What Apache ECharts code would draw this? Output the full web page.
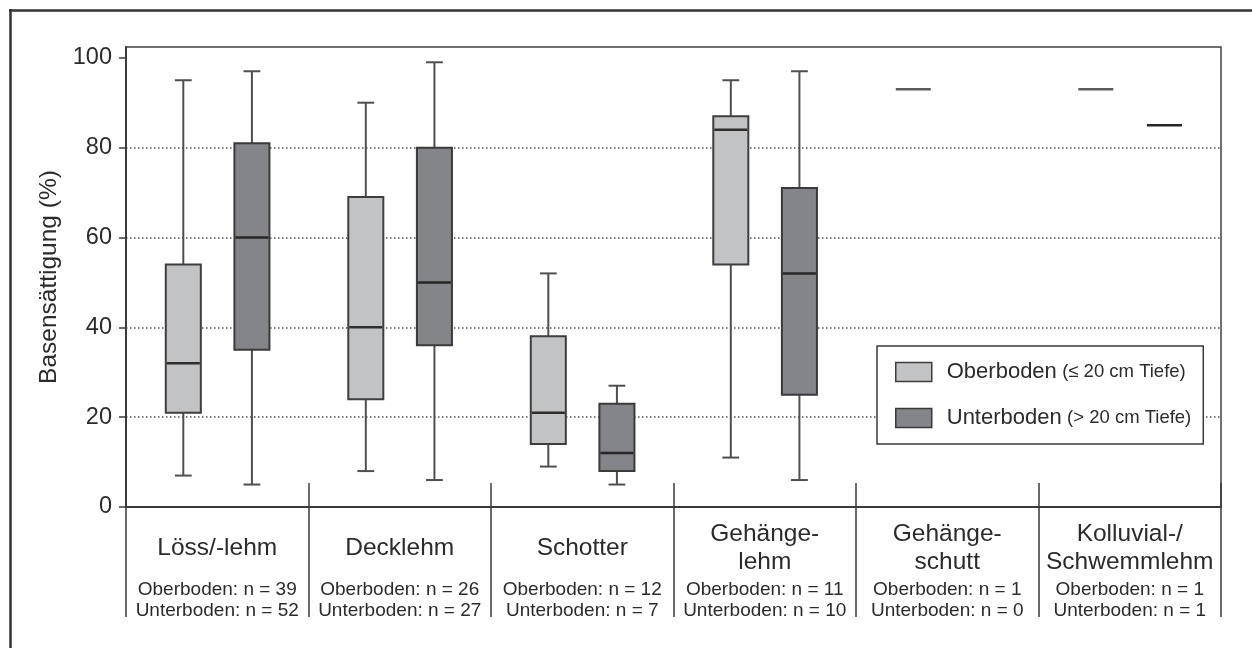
<!DOCTYPE html>
<html>
<head>
<meta charset="utf-8">
<script src="https://cdn.jsdelivr.net/npm/echarts@6/dist/echarts.min.js"></script>
<style>
  html, body { margin: 0; padding: 0; background: #fff; }
  #chart { width: 1252px; height: 648px; }
</style>
</head>
<body>
<div id="chart"></div>
<script>
// Substrate classes (two-line names split with "\n")
const categories = ['Löss/-lehm', 'Decklehm', 'Schotter', 'Gehänge-\nlehm', 'Gehänge-\nschutt', 'Kolluvial-/\nSchwemmlehm'];
// Sample counts per class
const nOberboden = [39, 26, 12, 11, 1, 1];
const nUnterboden = [52, 27, 7, 10, 0, 1];
// Base saturation (%) per class: [min, Q1, median, Q3, max]; null = no samples
const oberboden = [
  [7, 21, 32, 54, 95],
  [8, 24, 40, 69, 90],
  [9, 14, 21, 38, 52],
  [11, 54, 84, 87, 95],
  [93, 93, 93, 93, 93],
  [93, 93, 93, 93, 93]
];
const unterboden = [
  [5, 35, 60, 81, 97],
  [6, 36, 50, 80, 99],
  [5, 8, 12, 23, 27],
  [6, 25, 52, 71, 97],
  null,
  [85, 85, 85, 85, 85]
];
const yTicks = [0, 20, 40, 60, 80, 100];
const seriesNames = ['Oberboden', 'Unterboden'];
const depthNotes = ['(≤ 20 cm Tiefe)', '(> 20 cm Tiefe)'];
const yTitle = 'Basensättigung (%)';

const FONT = "'Liberation Sans', Arial, Helvetica, sans-serif";
const INK = '#2b2b2b';

const styles = [
  { fill: '#c2c3c5', border: '#3e3e3e', whisker: '#4f4f4f', median: '#2e2e2e', single: '#5c5c5c', offset: -0.186 },
  { fill: '#848589', border: '#3a3a3a', whisker: '#4f4f4f', median: '#262626', single: '#262626', offset: 0.19 }
];

function toRows(list) {
  const rows = [];
  list.forEach((v, i) => { if (v) rows.push([i].concat(v)); });
  return rows;
}

function makeRenderer(st) {
  return function (params, api) {
    const xi = api.value(0);
    const band = api.size([1, 0])[0];
    const cx = api.coord([xi, 0])[0] + st.offset * band;
    const boxW = band * 0.192;
    const capW = boxW * 0.48;
    const y = k => api.coord([xi, api.value(k)])[1];
    const yMin = y(1), yQ1 = y(2), yMed = y(3), yQ3 = y(4), yMax = y(5);
    const children = [];
    if (Math.abs(yQ1 - yQ3) < 0.5) {
      children.push({ type: 'line', shape: { x1: cx - boxW / 2, y1: yMed, x2: cx + boxW / 2, y2: yMed },
        style: { stroke: st.single, lineWidth: 2.5 } });
      return { type: 'group', children };
    }
    const wStyle = { stroke: st.whisker, lineWidth: 2 };
    children.push({ type: 'line', shape: { x1: cx, y1: yMax, x2: cx, y2: yQ3 }, style: wStyle });
    children.push({ type: 'line', shape: { x1: cx, y1: yQ1, x2: cx, y2: yMin }, style: wStyle });
    children.push({ type: 'line', shape: { x1: cx - capW / 2, y1: yMax, x2: cx + capW / 2, y2: yMax }, style: wStyle });
    children.push({ type: 'line', shape: { x1: cx - capW / 2, y1: yMin, x2: cx + capW / 2, y2: yMin }, style: wStyle });
    children.push({ type: 'rect', shape: { x: cx - boxW / 2, y: yQ3, width: boxW, height: yQ1 - yQ3 },
      style: { fill: st.fill, stroke: st.border, lineWidth: 2 } });
    children.push({ type: 'line', shape: { x1: cx - boxW / 2 + 1, y1: yMed, x2: cx + boxW / 2 - 1, y2: yMed },
      style: { stroke: st.median, lineWidth: 2.5 } });
    return { type: 'group', children };
  };
}

function categoryLabel(value, index) {
  const parts = value.split('\n');
  const head = parts.length > 1
    ? parts.map(p => '{t2|' + p + '}').join('\n')
    : '{t1|' + parts[0] + '}';
  return head + '\n{n1|Oberboden: n = ' + nOberboden[index] + '}\n{n2|Unterboden: n = ' + nUnterboden[index] + '}';
}

const chart = echarts.init(document.getElementById('chart'), null, { renderer: 'canvas' });

const option = {
  backgroundColor: '#fff',
  animation: false,
  textStyle: { fontFamily: FONT, color: INK },
  grid: {
    left: 126, right: 31, top: 47, bottom: 141,
    show: true, borderColor: '#404040', borderWidth: 1.5, backgroundColor: 'transparent'
  },
  legend: {
    orient: 'vertical',
    left: 877, top: 346,
    padding: [15, 12, 15, 18],
    itemWidth: 36, itemHeight: 19, itemGap: 24,
    borderColor: '#3a3a3a', borderWidth: 1.5, backgroundColor: '#fff',
    selectedMode: false,
    data: seriesNames.map((n, i) => ({
      name: n, icon: 'rect',
      itemStyle: { color: styles[i].fill, borderColor: styles[i].border, borderWidth: 1.5 }
    })),
    formatter: name => '{a|' + name + '} {b|' + depthNotes[seriesNames.indexOf(name)] + '}',
    textStyle: {
      fontFamily: FONT, color: INK,
      rich: {
        a: { fontSize: 22, fontFamily: FONT, color: INK, padding: [0, 2, 0, 10], lineHeight: 22 },
        b: { fontSize: 18.5, fontFamily: FONT, color: INK, lineHeight: 22 }
      }
    }
  },
  xAxis: [
    {
      type: 'category',
      data: categories,
      position: 'bottom',
      axisLine: { show: true, lineStyle: { color: '#3a3a3a', width: 2 } },
      axisTick: { show: true, inside: false, length: 110, interval: 0, lineStyle: { color: '#3a3a3a', width: 1.5 } },
      axisLabel: {
        interval: 0, margin: 13, color: INK, fontFamily: FONT,
        formatter: categoryLabel,
        rich: {
          t1: { fontSize: 24.5, lineHeight: 56, fontFamily: FONT, color: INK, align: 'center' },
          t2: { fontSize: 24.5, lineHeight: 28, fontFamily: FONT, color: INK, align: 'center' },
          n1: { fontSize: 19, lineHeight: 28, fontFamily: FONT, color: INK, align: 'center' },
          n2: { fontSize: 19, lineHeight: 14, fontFamily: FONT, color: INK, align: 'center' }
        }
      },
      splitLine: { show: false }
    },
    {
      type: 'category',
      data: categories,
      position: 'bottom',
      axisLine: { show: false },
      axisTick: { show: true, inside: true, length: 24, interval: 0, lineStyle: { color: '#3a3a3a', width: 1.5 } },
      axisLabel: { show: false },
      splitLine: { show: false }
    }
  ],
  yAxis: {
    type: 'value',
    min: 0, max: 102.4, interval: 20,
    name: yTitle,
    nameLocation: 'middle',
    nameRotate: 90,
    nameGap: 64,
    nameTextStyle: { fontSize: 24.5, fontFamily: FONT, color: INK },
    axisLine: { show: true, lineStyle: { color: '#3a3a3a', width: 2 } },
    axisTick: { show: true, length: 7, customValues: yTicks, lineStyle: { color: '#3a3a3a', width: 1.5 } },
    axisLabel: { fontSize: 23.5, margin: 14, color: INK, fontFamily: FONT, customValues: yTicks },
    splitLine: {
      show: true, showMinLine: false, showMaxLine: false,
      lineStyle: { color: '#505050', width: 1.5, type: [1.5, 2.5] }
    }
  },
  graphic: [
    { type: 'line', silent: true, z: 100, shape: { x1: 9, y1: 10.5, x2: 1252, y2: 10.5 }, style: { stroke: '#333', lineWidth: 2.5 } },
    { type: 'line', silent: true, z: 100, shape: { x1: 10.5, y1: 9, x2: 10.5, y2: 648 }, style: { stroke: '#333', lineWidth: 2.5 } }
  ],
  series: [oberboden, unterboden].map((list, i) => ({
    name: seriesNames[i],
    type: 'custom',
    xAxisIndex: 0,
    renderItem: makeRenderer(styles[i]),
    itemStyle: { color: styles[i].fill, borderColor: styles[i].border },
    encode: { x: 0, y: [1, 2, 3, 4, 5] },
    data: toRows(list),
    z: 5
  }))
};

chart.setOption(option);
</script>
</body>
</html>
